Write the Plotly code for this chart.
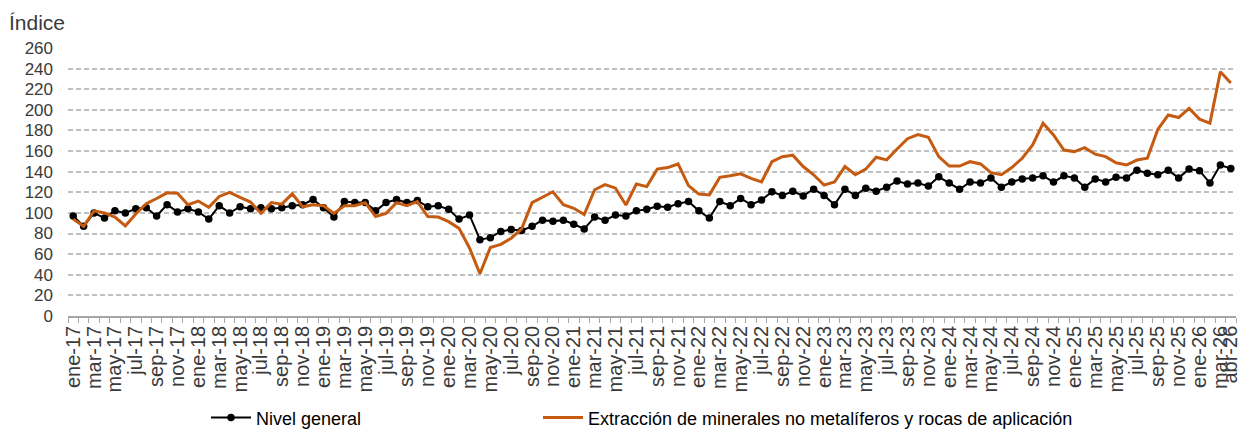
import plotly.graph_objects as go

months = ["ene", "feb", "mar", "abr", "may", "jun", "jul", "ago", "sep", "oct", "nov", "dic"]
categories = [f"{m}-{y:02d}" for y in range(17, 27) for m in months][:112]

nivel_general = [
    97, 87, 100, 95, 102, 100, 104, 105, 97, 108, 101, 104,
    101, 94, 107, 100, 106, 104, 105, 104, 105, 107, 108, 113,
    105, 96, 111, 110, 110, 102, 110, 113, 110, 112, 106, 107,
    103.5, 94, 98, 74, 76, 82, 84, 83, 87, 93, 92, 93,
    89, 84.5, 96, 93, 98, 97, 102, 103.5, 106.5, 105.5, 109, 111,
    102, 95, 111, 107, 114, 108, 112.5, 120.5, 117, 121, 116.5, 123,
    117, 108, 123, 117, 124, 121, 125, 131, 128, 129, 126, 135,
    129, 123, 130, 129, 134, 125, 130, 133, 134, 136, 130, 136,
    134, 125, 133, 130, 134.5, 134, 141.5, 138.5, 137, 141.5, 134, 142.5,
    141, 129, 146.5, 143,
]

minerales = [
    94, 87, 102, 100, 96, 87.5, 99, 109, 114, 119.5, 119, 108,
    111.5, 105.5, 116, 120, 115, 110.5, 99.6, 110, 108.5, 118.5, 106, 108,
    107, 99.6, 107, 107, 110, 96.5, 99.6, 110, 107, 111, 96.5, 96,
    91.5, 85, 66, 41, 66.5, 69.5, 75.5, 84.5, 110, 115.5, 120.5, 108,
    104.5, 98.5, 122.5, 127.5, 124, 107.7, 128, 125.5, 142.5, 144, 147.5, 126.5,
    118.3, 117.5, 134.5, 136, 138, 133.6, 130, 149.7, 154.6, 156, 145, 137,
    127, 130, 145, 137, 142.5, 154, 151.5, 162, 172, 176, 173.3, 154.6,
    145.5, 145.5, 149.7, 147.5, 139, 137, 144, 153, 166, 187, 175.6, 161,
    159.5, 163.3, 157, 154.6, 148.7, 146.5, 151.3, 153, 181, 195, 192.5, 201.5,
    191, 187, 237, 226,
]

y_ticks = list(range(0, 261, 20))
tick_text = [c if (i % 2 == 0 or i == len(categories) - 1) else "" for i, c in enumerate(categories)]

FONT = "Liberation Sans, Arial, sans-serif"
ORANGE = "#C55A11"
PLOT_W = 1241 - 68 - 5

fig = go.Figure()
fig.add_trace(go.Scatter(
    x=categories, y=nivel_general, name="Nivel general",
    mode="lines+markers",
    line=dict(color="#000000", width=2),
    marker=dict(color="#000000", size=7.5),
    legend="legend",
))
fig.add_trace(go.Scatter(
    x=categories, y=minerales,
    name="Extracción de minerales no metalíferos y rocas de aplicación",
    mode="lines",
    line=dict(color=ORANGE, width=3),
    legend="legend2",
))

legend_common = dict(
    orientation="h", xanchor="left", y=-0.38, yanchor="middle",
    font=dict(family=FONT, size=18, color="#000000"),
    bgcolor="rgba(0,0,0,0)", itemwidth=40,
)

fig.update_layout(
    width=1241, height=429,
    margin=dict(l=68, r=5, t=48, b=113, autoexpand=False),
    paper_bgcolor="white", plot_bgcolor="white",
    font=dict(family=FONT, size=17, color="#3a3a3a"),
    showlegend=True,
    legend=dict(x=(206 - 68) / PLOT_W, **legend_common),
    legend2=dict(x=(538 - 68) / PLOT_W, **legend_common),
    annotations=[dict(
        text="Índice", xref="paper", yref="paper", x=-61 / PLOT_W, y=1.0,
        xanchor="left", yanchor="bottom", yshift=12, showarrow=False,
        font=dict(family=FONT, size=21, color="#3a3a3a"),
    )],
)

fig.update_xaxes(
    type="category", categoryorder="array", categoryarray=categories,
    tickmode="array", tickvals=categories, ticktext=tick_text,
    tickangle=-90, tickson="boundaries",
    ticks="outside", ticklen=5, tickcolor="#a6a6a6", tickwidth=1.2,
    showline=True, linecolor="#a6a6a6", linewidth=1.5,
    showgrid=False, zeroline=False, automargin=False,
    tickfont=dict(family=FONT, size=20, color="#3a3a3a"),
    range=[-0.5, len(categories) - 0.5],
)
fig.update_yaxes(
    range=[0, 260], tickmode="array", tickvals=y_ticks,
    showgrid=True, gridcolor="#c0c0c0", gridwidth=1.5, griddash="5px,3px",
    showline=False, zeroline=False, ticks="", automargin=False,
    tickfont=dict(family=FONT, size=17, color="#3a3a3a"),
    ticklabelstandoff=14,
)

fig.write_html(
    "out.html",
    config={"displayModeBar": False},
    post_script="document.body.style.margin='0px';document.body.style.overflow='hidden';",
)
